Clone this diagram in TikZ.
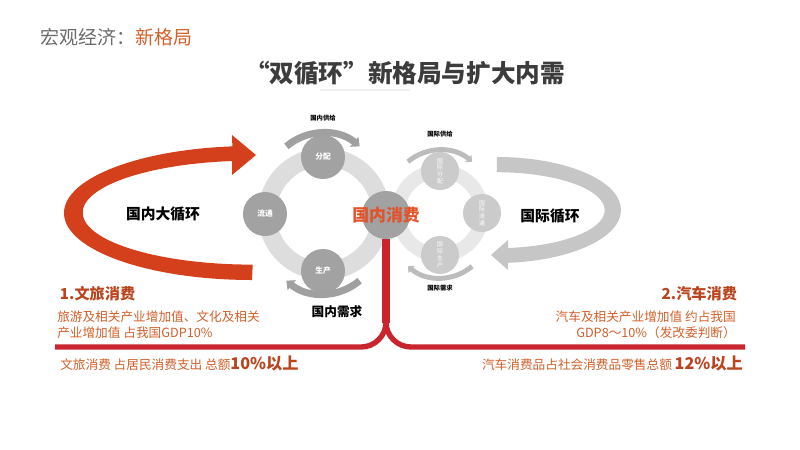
\documentclass[tikz,border=0pt]{standalone}
\usepackage{fontspec}
\setmainfont{Noto Sans CJK SC}
\usepackage{tikz}
\usetikzlibrary{arrows.meta,positioning,calc}
\definecolor{ringLight}{HTML}{DDDDDD}
\definecolor{ringFaint}{HTML}{E8E8E8}
\definecolor{dotGray}{HTML}{A2A2A2}
\definecolor{dotFaint}{HTML}{CBCBCB}
\definecolor{arcGray}{HTML}{A0A0A0}
\definecolor{loopRed}{HTML}{D5401C}
\definecolor{loopGray}{HTML}{C6C6C6}
\definecolor{lineRed}{HTML}{C9252E}
\definecolor{textOrange}{HTML}{D2602A}
\definecolor{headBrown}{HTML}{B9441E}
\definecolor{titleGray}{HTML}{3C3C3C}
\definecolor{consOrange}{HTML}{E2532B}

\tikzset{
  dot/.style={circle, fill=dotGray, text=white, minimum size=1.1cm, inner sep=0pt, font=\fontsize{5.5}{6}\selectfont\bfseries},
  faintdot/.style={circle, fill=dotFaint, text=white, minimum size=0.95cm, inner sep=0pt, align=center, font=\fontsize{4.2}{4.8}\selectfont},
  flowarc/.style={arcGray, line width=5pt, -{Triangle[width=9pt,length=5pt]}},
  faintarc/.style={arcGray!70, line width=3.5pt, -{Triangle[width=6.5pt,length=3.5pt]}},
  tinylbl/.style={font=\fontsize{4.5}{5}\selectfont\bfseries},
  looplbl/.style={font=\fontsize{10.5}{12}\selectfont\bfseries},
  headlbl/.style={text=headBrown, font=\fontsize{10.8}{13}\selectfont\bfseries},
  bodylbl/.style={text=textOrange, font=\fontsize{9}{11.4}\selectfont}
}

\begin{document}
\begin{tikzpicture}[x=0.025cm, y=0.025cm, >=Latex]
\useasboundingbox (0,0) rectangle (800,-449);
\fill[white] (0,0) rectangle (800,-449);

\node[anchor=west, text=gray!85!black, font=\fontsize{13.5}{16}\selectfont] (hdr) at (36,-37) {宏观经济：\textcolor{textOrange}{新格局}};
\node[text=titleGray, font=\fontsize{17.5}{20}\selectfont\bfseries] (title) at (405,-73) {“双循环”新格局与扩大内需};
\draw[gray!12, line width=0.8pt] (320,-90) -- (410,-90);

\fill[loopRed] (252,-280) arc[start angle=-90, end angle=-264, x radius=188, y radius=67]
  -- (232,-135) -- (256,-155) -- (232,-175) -- (232,-161)
  arc[start angle=97, end angle=270, x radius=170, y radius=52] -- cycle;
\fill[loopGray] (497,-157) arc[start angle=90, end angle=-85, x radius=124, y radius=53]
  -- (508,-270) -- (491,-255) -- (508,-240) -- (508,-248)
  arc[start angle=-84, end angle=90, x radius=108, y radius=38] -- cycle;
\node[looplbl] (bigLoop) at (163,-214) {国内大循环};
\node[looplbl] (intlLoop) at (550,-216) {国际循环};

\draw[ringFaint, line width=10pt] (440,-213) circle[radius=42];
\draw[ringLight, line width=12.8pt] (324,-214) circle[radius=57];

\node[dot] (fenpei) at (323,-157) {分配};
\node[dot] (liutong) at (265,-214) {流通};
\node[dot] (shengchan) at (323,-271) {生产};
\node[faintdot] (gjfenpei) at (440,-171) {国\\际\\分\\配};
\node[faintdot] (gjliutong) at (482,-213) {国\\际\\流\\通};
\node[faintdot] (gjshengchan) at (440,-255) {国\\际\\生\\产};

\draw[flowarc] ($(fenpei)+(0,-33)$) ++(130:57) arc[start angle=130, end angle=50, radius=57];
\draw[flowarc] ($(shengchan)+(0,34)$) ++(-50:57) arc[start angle=-50, end angle=-130, radius=57];
\draw[faintarc] ($(gjfenpei)+(0,-29)$) ++(130:50) arc[start angle=130, end angle=50, radius=50];
\draw[faintarc] ($(gjshengchan)+(0,27)$) ++(-50:50) arc[start angle=-50, end angle=-130, radius=50];
\node[tinylbl] (gnSupply) at (323,-118) {国内供给};
\node[tinylbl] (gjSupply) at (440,-134) {国际供给};
\node[tinylbl] (gjDemand) at (440,-288) {国际需求};
\node[font=\fontsize{9}{11}\selectfont\bfseries] (gnDemand) at (337,-312) {国内需求};

\coordinate (lineL) at (55,-347);
\coordinate (lineR) at (745,-347);
\node[circle, fill=dotGray, minimum size=1.2cm, inner sep=0pt] (cons) at (386,-215) {};
\draw[lineRed, line width=5.5pt] (cons.south) -- ++(0,-84);
\draw[lineRed, line width=3.8pt] (lineL) -- (361,-347) arc[start angle=-90, end angle=0, radius=25];
\draw[lineRed, line width=3.8pt] (lineR) -- (411,-347) arc[start angle=270, end angle=180, radius=25];
\node[text=consOrange, font=\fontsize{12}{14}\selectfont\bfseries] (consLbl) at (cons.center) {国内消费};

\node[headlbl, anchor=west] (tourHead) at (55,-294) {1.文旅消费};
\node[bodylbl, anchor=north west, align=left, inner xsep=0pt] (tourBody) at (57,-306) {旅游及相关产业增加值、文化及相关\\产业增加值 占我国GDP10\%};
\node[bodylbl, anchor=west, inner xsep=0pt] (tourShare) at (60,-363) {文旅消费 占居民消费支出 总额{\fontsize{11.5}{14}\selectfont\bfseries\color{headBrown}10\%以上}};

\node[headlbl, anchor=east] (carHead) at (742,-294) {2.汽车消费};
\node[bodylbl, anchor=north east, align=right, inner xsep=0pt] (carBody) at (736,-306) {汽车及相关产业增加值 约占我国\\GDP8～10\%（发改委判断）};
\node[bodylbl, anchor=east, inner xsep=0pt] (carShare) at (743,-363) {汽车消费品占社会消费品零售总额 {\fontsize{11.5}{14}\selectfont\bfseries\color{headBrown}12\%以上}};
\end{tikzpicture}
\end{document}
